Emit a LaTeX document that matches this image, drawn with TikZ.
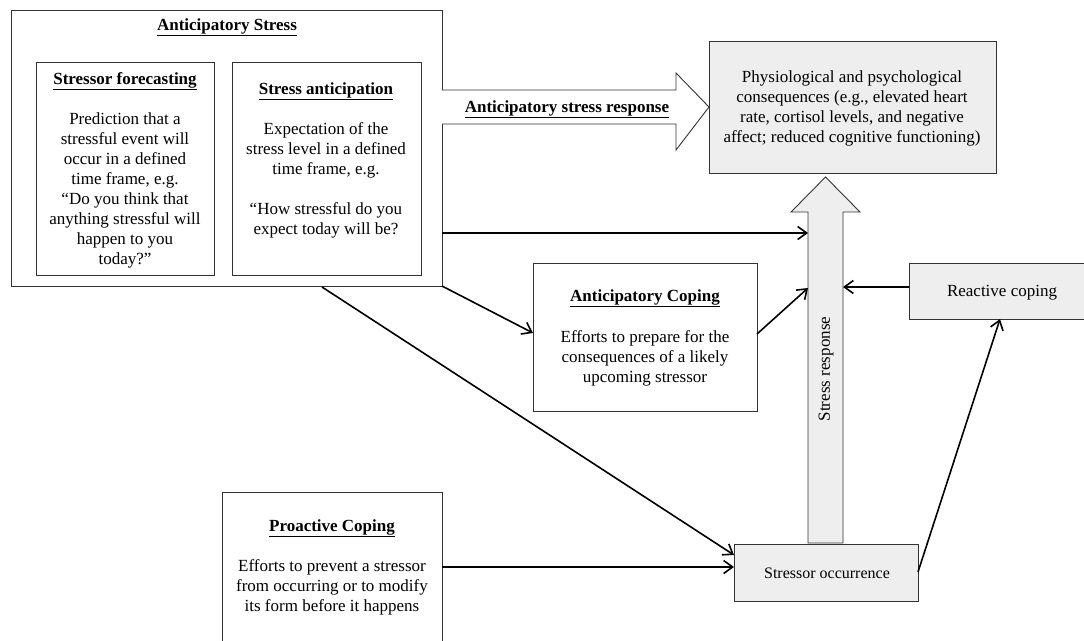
\documentclass[tikz,border=0pt]{standalone}
\usepackage{fontspec}
\setmainfont{Liberation Serif}
\usetikzlibrary{arrows.meta}
\definecolor{boxgray}{HTML}{EEEEEE}
\definecolor{edge}{HTML}{333333}
\begin{document}
\begin{tikzpicture}[x=1pt,y=-1pt,
  box/.style={draw=edge,line width=0.9pt,inner sep=0pt,outer sep=0pt},
  graybox/.style={box,fill=boxgray},
  txt/.style={font=\fontsize{17}{20}\selectfont,align=center,inner sep=0pt},
  ttl/.style={txt,font=\fontsize{17}{20}\selectfont\bfseries},
  conn/.style={line width=1.6pt,-{Straight Barb[length=9pt,width=13pt]}},
  plain/.style={line width=1.6pt}]
\useasboundingbox (0,0) rectangle (1084,640);
\clip (0,0) rectangle (1084,640);

% Anticipatory stress outer box
\node[box,minimum width=431pt,minimum height=276pt] (A) at (226.5,148) {};
\node[ttl] (At) at (227,27) {\underline{Anticipatory Stress}};

% Stressor forecasting
\node[box,minimum width=178pt,minimum height=213pt] (SF) at (125,168.5) {};
\node[ttl] (SFt) at (125,81) {\underline{Stressor forecasting}};
\node[txt] (SFb) at (125,190) {Prediction that a\\stressful event will\\occur in a defined\\time frame, e.g.\\“Do you think that\\anything stressful will\\happen to you\\today?”};

% Stress anticipation
\node[box,minimum width=189pt,minimum height=213pt] (SA) at (326.5,168.5) {};
\node[ttl] (SAt) at (326,91) {\underline{Stress anticipation}};
\node[txt] (SAb) at (326,180) {Expectation of the\\stress level in a defined\\time frame, e.g.\\[20pt]“How stressful do you\\expect today will be?};

% Physiological consequences
\node[graybox,minimum width=287pt,minimum height=132pt] (P) at (852.5,107) {};
\node[txt] (Pb) at (852,108) {Physiological and psychological\\consequences (e.g., elevated heart\\rate, cortisol levels, and negative\\affect; reduced cognitive functioning)};

% Anticipatory stress response block arrow
\draw[line width=0.9pt,draw=edge,fill=white] (442,90) -- (676,90) -- (676,73) -- (709,107) -- (676,150) -- (676,124) -- (442,124);
\node[ttl] (ASR) at (567,109) {\underline{Anticipatory stress response}};

% Stress response vertical block arrow
\draw[line width=0.9pt,draw=edge,fill=boxgray] (808,543) -- (808,212) -- (791,212) -- (825.5,177) -- (860,212) -- (843,212) -- (843,543) -- cycle;
\node[txt,rotate=90] (SR) at (826,369) {Stress response};

% Anticipatory coping
\node[box,minimum width=224pt,minimum height=148pt] (AC) at (645,337) {};
\node[ttl] (ACt) at (645,298) {\underline{Anticipatory Coping}};
\node[txt] (ACb) at (645,358) {Efforts to prepare for the\\consequences of a likely\\upcoming stressor};

% Reactive coping
\node[graybox,minimum width=186pt,minimum height=56pt] (RC) at (1002,291) {};
\node[txt] (RCt) at (1002,293) {Reactive coping};

% Stressor occurrence
\node[graybox,minimum width=184pt,minimum height=57pt] (SO) at (826,572.5) {};
\node[txt,font=\fontsize{16}{20}\selectfont] (SOt) at (827,573) {Stressor occurrence};

% Proactive coping
\node[box,minimum width=220pt,minimum height=160pt] (PC) at (332,572) {};
\node[ttl] (PCt) at (332,528) {\underline{Proactive Coping}};
\node[txt] (PCb) at (332,587) {Efforts to prevent a stressor\\from occurring or to modify\\its form before it happens};

% coordinates on the stress response shaft
\coordinate (s1) at (808,233);
\coordinate (s2) at (808,288);
\coordinate (s3) at (843,287);
\coordinate (a1) at (442,233);
\coordinate (a2) at (322,287);

% connectors
\draw[conn] (a1) -- (s1);
\draw[conn] (A.south east) -- (AC.west |- 0,333);
\draw[conn] (AC.east |- 0,334) -- (s2);
\draw[conn] (RC.west |- s3) -- (s3);
\draw[conn] (a2) -- (SO.west |- 0,555);
\draw[conn] (PC.east |- 0,567) -- (SO.west |- 0,567);
\draw[conn] (SO.east |- 0,572) -- (RC.south -| 1000,0);
\end{tikzpicture}
\end{document}
